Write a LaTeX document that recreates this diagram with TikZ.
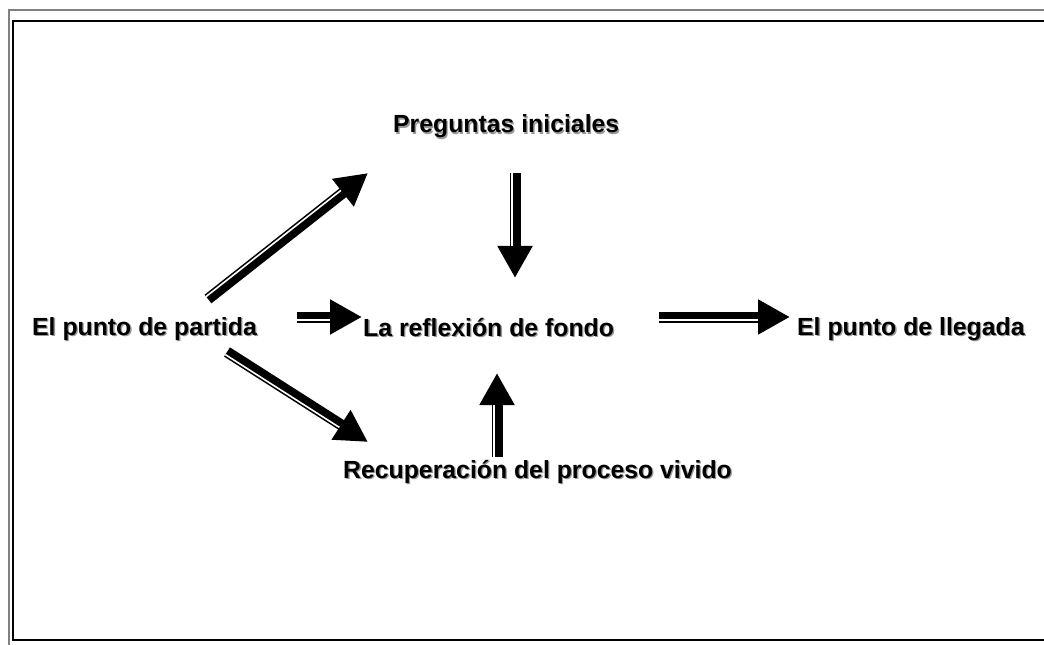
\documentclass[tikz,border=0pt]{standalone}
\usepackage{fontspec}
\setmainfont{Liberation Sans}
\usetikzlibrary{arrows.meta,calc}
\newcommand{\shd}[1]{\leavevmode\rlap{\hspace{1.3bp}\raisebox{-1.3bp}{\textcolor{black!40}{#1}}}#1}
\begin{document}
\begin{tikzpicture}[x=1bp,y=-1bp,
  lbl/.style={font=\fontsize{24.8bp}{28bp}\selectfont\bfseries, inner sep=0pt, anchor=base west},
  bigarrow/.style={line width=11bp, -{Triangle[length=32bp,width=33bp]}},
  stripe/.style={draw=white, line width=1.6bp, shorten >=32bp},
  grayline/.style={draw=black!50, line width=1.3bp},
  blackline/.style={draw=black, line width=2.2bp}]
\useasboundingbox (0,0) rectangle (1044,645);
% frame
\draw[grayline] (1044,10) -- (9,10) -- (9,645);
\draw[blackline] (1044,21) -- (13,21) -- (13,640) -- (1044,640);
% labels
\node[lbl] (partida) at (32,335) {\shd{El punto de partida}};
\node[lbl] (preg) at (393,133) {\shd{Preguntas iniciales}};
\node[lbl] (refl) at (363,336) {\shd{La reflexión de fondo}};
\node[lbl] (lleg) at (797,335) {\shd{El punto de llegada}};
\node[lbl] (recu) at (343,478) {\shd{Recuperación del proceso vivido}};
% arrow end points
\coordinate (a1s) at (208,299); \coordinate (a1t) at (368,173);
\coordinate (a2s) at (297,317); \coordinate (a2t) at (362,317);
\coordinate (a3s) at (227,352); \coordinate (a3t) at (368,442);
\coordinate (a4s) at (515,173); \coordinate (a4t) at (515,278);
\coordinate (a5s) at (497,457); \coordinate (a5t) at (497,373);
\coordinate (a6s) at (659,317); \coordinate (a6t) at (790,317);
% arrows
\draw[bigarrow] (a1s) -- (a1t);
\draw[stripe] ($(a1s)!3.1bp!90:(a1t)$) -- ($(a1t)!3.1bp!-90:(a1s)$);
\draw[bigarrow] (a2s) -- (a2t);
\draw[stripe] ($(a2s)!3.1bp!-90:(a2t)$) -- ($(a2t)!3.1bp!90:(a2s)$);
\draw[bigarrow] (a3s) -- (a3t);
\draw[stripe] ($(a3s)!3.1bp!-90:(a3t)$) -- ($(a3t)!3.1bp!90:(a3s)$);
\draw[bigarrow] (a4s) -- (a4t);
\draw[stripe] ($(a4s)!3.1bp!-90:(a4t)$) -- ($(a4t)!3.1bp!90:(a4s)$);
\draw[bigarrow] (a5s) -- (a5t);
\draw[stripe] ($(a5s)!3.1bp!90:(a5t)$) -- ($(a5t)!3.1bp!-90:(a5s)$);
\draw[bigarrow] (a6s) -- (a6t);
\draw[stripe] ($(a6s)!3.1bp!-90:(a6t)$) -- ($(a6t)!3.1bp!90:(a6s)$);
\end{tikzpicture}
\end{document}
